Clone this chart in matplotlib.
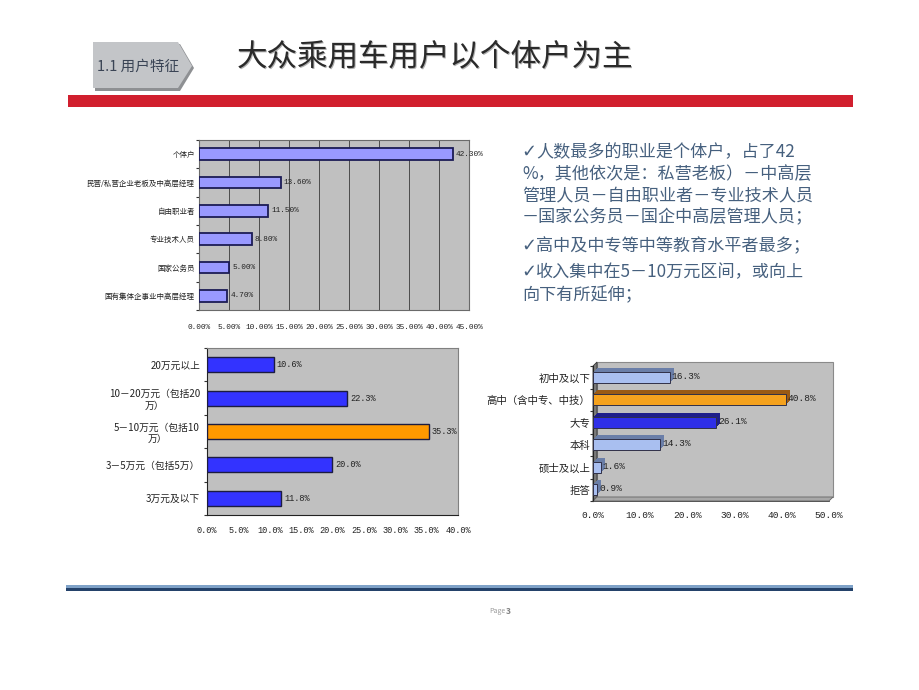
import numpy as np
import matplotlib.pyplot as plt
from matplotlib.patches import Polygon, Rectangle
from matplotlib.ticker import FixedLocator, MultipleLocator
from matplotlib.transforms import offset_copy

plt.rcParams['font.family'] = ['Noto Sans CJK SC', 'DejaVu Sans']

W, H = 920, 690
MONO = ['Liberation Mono', 'Noto Sans CJK SC']

# --- data ---
title = '大众乘用车用户以个体户为主'
section = '1.1 用户特征'

job_labels = ['个体户', '民营/私营企业老板及中高层经理', '自由职业者',
              '专业技术人员', '国家公务员', '国有集体企事业中高层经理']
job_values = [42.3, 13.6, 11.5, 8.8, 5.0, 4.7]

income_labels = ['20万元以上', '10－20万元（包括20\n万）', '5－10万元（包括10\n万）',
                 '3－5万元（包括5万）', '3万元及以下']
income_values = [10.6, 22.3, 35.3, 20.0, 11.8]
income_colors = ['#3333FF', '#3333FF', '#FF9900', '#3333FF', '#3333FF']

edu_labels = ['初中及以下', '高中（含中专、中技）', '大专', '本科', '硕士及以上', '拒答']
edu_values = [16.3, 40.8, 26.1, 14.3, 1.6, 0.9]
edu_colors = ['#A9BFF0', '#F5A21E', '#2F2FE8', '#A9BFF0', '#A9BFF0', '#A9BFF0']

notes = ['✓人数最多的职业是个体户，占了42',
         '%，其他依次是：私营老板）－中高层',
         '管理人员－自由职业者－专业技术人员',
         '－国家公务员－国企中高层管理人员；',
         '✓高中及中专等中等教育水平者最多；',
         '✓收入集中在5－10万元区间，或向上',
         '向下有所延伸；']
note_rows = [152, 174, 196, 217, 246, 272, 294]


def fx(x):
    return x / W


def fy(y):
    return 1 - y / H


def px_axes(fig, x0, y0, x1, y1):
    return fig.add_axes([fx(x0), fy(y1), (x1 - x0) / W, (y1 - y0) / H])


def style_bar_axes(ax, labels, n, xmax, step, fmt, tick_fs, lab_fs, xpad, ypad):
    ax.set_xlim(0, xmax)
    ax.set_ylim(n - 0.5, -0.5)
    ax.xaxis.set_major_locator(MultipleLocator(step))
    ax.set_xticklabels([fmt.format(v) for v in ax.get_xticks()],
                       family=MONO, fontsize=tick_fs, color='#222222')
    ax.set_yticks(range(n))
    ax.set_yticklabels(labels, fontsize=lab_fs, color='#222222')
    for t in ax.get_yticklabels():
        t.set_multialignment('center')
    ax.yaxis.set_minor_locator(FixedLocator(np.arange(n + 1) - 0.5))
    ax.tick_params(axis='y', which='major', length=0, pad=ypad)
    ax.tick_params(axis='y', which='minor', length=2, width=0.8, color='#333333')
    ax.tick_params(axis='x', length=0, pad=xpad)


fig = plt.figure(figsize=(9.2, 6.9), dpi=100)
fig.patch.set_facecolor('white')

# --- header ---
tab = Polygon([(fx(93), fy(42)), (fx(178), fy(42)), (fx(192), fy(66)),
               (fx(178), fy(88)), (fx(93), fy(88))],
              closed=True, transform=fig.transFigure,
              facecolor='#C3C5C8', edgecolor='none', zorder=2)
shadow = Polygon([(fx(95), fy(44)), (fx(180), fy(44)), (fx(194), fy(68)),
                  (fx(180), fy(91)), (fx(95), fy(91))],
                 closed=True, transform=fig.transFigure,
                 facecolor='#8E9093', edgecolor='none', zorder=1)
fig.patches.extend([shadow, tab])
fig.text(fx(97), fy(67), section, fontsize=10.5, color='#3A4455',
         va='center', ha='left', zorder=3)
fig.text(fx(238), fy(58), title, fontsize=22, color='#B0B0B0',
         va='center', ha='left')
fig.text(fx(236.5), fy(56.5), title, fontsize=22, color='#2A2A2A',
         va='center', ha='left')
fig.patches.append(Rectangle((fx(68), fy(107)), (853 - 68) / W, 12 / H,
                             transform=fig.transFigure,
                             facecolor='#D11F2E', edgecolor='none'))

# --- footer ---
fig.patches.append(Rectangle((fx(66), fy(591)), (853 - 66) / W, 6 / H,
                             transform=fig.transFigure,
                             facecolor='#7FA2C8', edgecolor='none'))
fig.patches.append(Rectangle((fx(66), fy(591)), (853 - 66) / W, 3.5 / H,
                             transform=fig.transFigure,
                             facecolor='#24426A', edgecolor='none'))
fig.text(fx(497), fy(611), 'Page', fontsize=5, color='#9A9A9A',
         style='italic', ha='center', va='center')
fig.text(fx(508), fy(611), '3', fontsize=6, color='#808080',
         fontweight='bold', style='italic', ha='center', va='center')

# --- notes (check mark drawn in DejaVu Sans) ---
for txt, row in zip(notes, note_rows):
    if txt.startswith('✓'):
        fig.text(fx(521), fy(row), '✓', fontsize=13, color='#46607E',
                 family='DejaVu Sans', fontweight='bold', va='center', ha='left')
        fig.text(fx(536), fy(row), txt[1:], fontsize=12.3, color='#46607E',
                 va='center', ha='left')
    else:
        fig.text(fx(522), fy(row), txt, fontsize=12.3, color='#46607E',
                 va='center', ha='left')

# --- top chart: occupation ---
ax1 = px_axes(fig, 199, 140, 469, 310)
ax1.set_facecolor('#C0C0C0')
y1 = np.arange(len(job_values))
ax1.barh(y1, job_values, height=0.42, color='#9999FF',
         edgecolor='#1C1C55', linewidth=1.3, zorder=3)
style_bar_axes(ax1, job_labels, len(job_values), 45, 5, '{:.2f}%',
               5.6, 5.4, 10, 3)
ax1.grid(axis='x', color='#3A3A3A', linewidth=0.6, zorder=1)
ax1.set_axisbelow(True)
for s in ax1.spines.values():
    s.set_color('#6A6A6A')
    s.set_linewidth(0.8)
for i, v in enumerate(job_values):
    ax1.text(v + 0.5, i, f'{v:.2f}%', va='center', ha='left',
             family=MONO, fontsize=5.6, color='#222222', zorder=4)

# --- bottom left: income ---
ax2 = px_axes(fig, 207, 348, 458, 515)
ax2.set_facecolor('#C0C0C0')
y2 = np.arange(len(income_values))
ax2.barh(y2, income_values, height=0.45, color=income_colors,
         edgecolor='#1C1C40', linewidth=1.0, zorder=3)
style_bar_axes(ax2, income_labels, len(income_values), 40, 5, '{:.1f}%',
               6.2, 7, 8, 5)
for s in ax2.spines.values():
    s.set_color('#808080')
    s.set_linewidth(0.8)
ax2.spines['left'].set_color('#222222')
ax2.spines['bottom'].set_color('#222222')
for i, v in enumerate(income_values):
    ax2.text(v + 0.5, i, f'{v:.1f}%', va='center', ha='left',
             family=MONO, fontsize=6.2, color='#222222', zorder=4)

# --- bottom right: education (pseudo 3D) ---
ax3 = px_axes(fig, 593, 366, 829, 501)
ax3.set_facecolor('none')
d = 4  # depth in pixels
back = Rectangle((fx(593 + d), fy(501 - d)), 236 / W, 135 / H,
                 transform=fig.transFigure, facecolor='#C0C0C0',
                 edgecolor='#8A8A8A', linewidth=0.8, zorder=-3)
left_wall = Polygon([(fx(593), fy(501)), (fx(593), fy(366)),
                     (fx(593 + d), fy(366 - d)), (fx(593 + d), fy(501 - d))],
                    closed=True, transform=fig.transFigure,
                    facecolor='#7A7A7A', edgecolor='#333333', linewidth=0.6, zorder=-2)
floor = Polygon([(fx(593), fy(501)), (fx(829), fy(501)),
                 (fx(829 + d), fy(501 - d)), (fx(593 + d), fy(501 - d))],
                closed=True, transform=fig.transFigure,
                facecolor='#A8A8A8', edgecolor='#666666', linewidth=0.6, zorder=-2)
fig.patches.extend([back, left_wall, floor])

y3 = np.arange(len(edu_values))
dark = ['#6A7EA8', '#9A5A14', '#1E1E8A', '#6A7EA8', '#6A7EA8', '#6A7EA8']
for k in range(d, 0, -1):
    tr = offset_copy(ax3.transData, fig=fig, x=k, y=k, units='dots')
    ax3.barh(y3, edu_values, height=0.5, color=dark, edgecolor='none',
             transform=tr, zorder=2)
ax3.barh(y3, edu_values, height=0.5, color=edu_colors,
         edgecolor='#303048', linewidth=0.7, zorder=3)
style_bar_axes(ax3, edu_labels, len(edu_values), 50, 10, '{:.1f}%',
               6.8, 7.5, 7, 2)
for s in ['top', 'right']:
    ax3.spines[s].set_visible(False)
ax3.spines['left'].set_color('#222222')
ax3.spines['bottom'].set_color('#444444')
ax3.spines['bottom'].set_linewidth(0.6)
for i, v in enumerate(edu_values):
    ax3.text(v + 0.4, i - 0.05, f'{v:.1f}%', va='center', ha='left',
             family=MONO, fontsize=6.8, color='#222222', zorder=4)

fig.savefig('out.png', dpi=100, facecolor='white')
